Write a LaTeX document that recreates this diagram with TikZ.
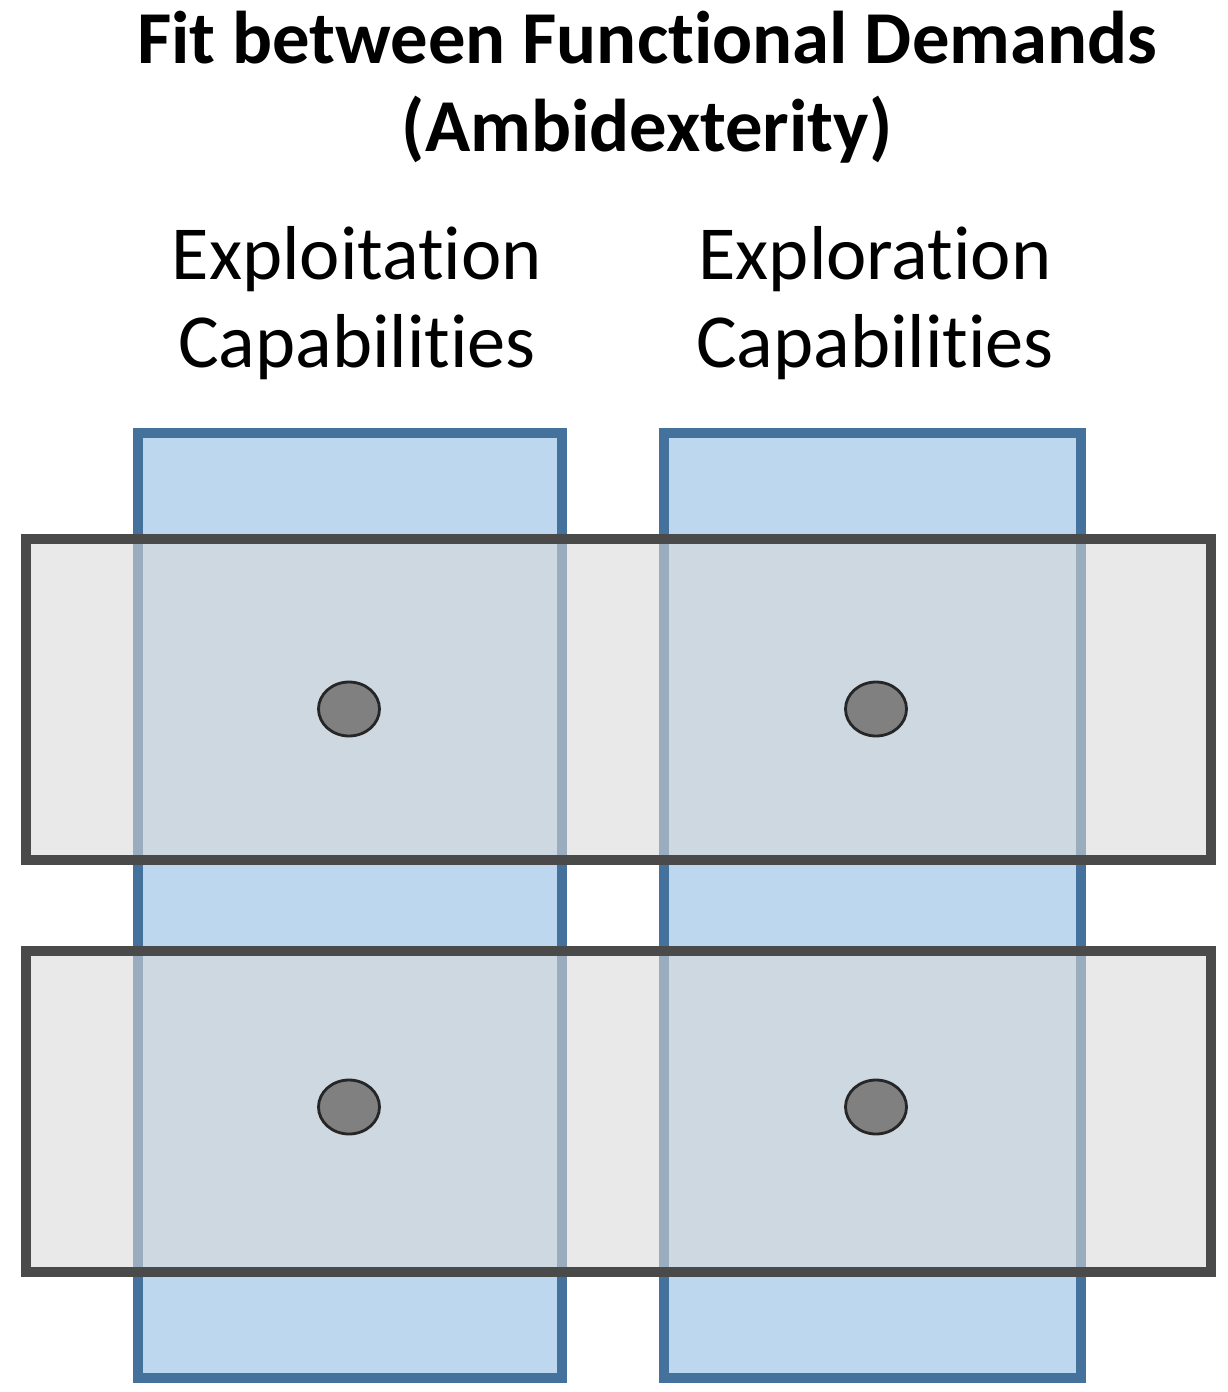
\documentclass[tikz,border=0pt]{standalone}
\usepackage{fontspec}
\setmainfont[Ligatures={NoCommon}]{Carlito}
\usetikzlibrary{shapes.geometric}
\definecolor{cap-blue}{HTML}{BDD7EE}
\definecolor{cap-edge}{HTML}{44729D}
\definecolor{dem-gray}{HTML}{D9D9D9}
\definecolor{dem-edge}{HTML}{4A4A4A}
\definecolor{fit-dot}{HTML}{808080}

\begin{document}
\begin{tikzpicture}[x=0.02cm, y=-0.02cm,
        every node/.style={font=\fontsize{43.5pt}{50pt}\selectfont},
        capbox/.style={draw=cap-edge, fill=cap-blue, line width=6.2pt},
        dembox/.style={draw=dem-edge, fill=dem-gray, fill opacity=0.58, line width=6.2pt},
        fitdot/.style={ellipse, draw=black!85, fill=fit-dot, line width=1.6pt,
            minimum width=1.22cm, minimum height=1.08cm, inner sep=0pt}]
      \useasboundingbox (0,0) rectangle (1227,1392);
      % title and column heads
      \node[align=center, font=\fontsize{42.5pt}{50pt}\selectfont\bfseries] (title) at (647,87)
            {Fit between Functional Demands\\(Ambidexterity)};
      \node[align=center] (exploit) at (357,303) {Exploitation\\Capabilities};
      \node[align=center] (explore) at (875,303) {Exploration\\Capabilities};
      % capability columns
      \draw[capbox] (138,433) rectangle (562,1378);
      \draw[capbox] (664,433) rectangle (1081,1378);
      % demand rows
      \draw[dembox] (26,539) rectangle (1211,860);
      \draw[dembox] (26,951) rectangle (1211,1272);
      % fit points
      \node[fitdot] (fitA) at (349,709) {};
      \node[fitdot] (fitB) at (876,709) {};
      \node[fitdot] (fitC) at (349,1107) {};
      \node[fitdot] (fitD) at (876,1107) {};
    \end{tikzpicture}
\end{document}
